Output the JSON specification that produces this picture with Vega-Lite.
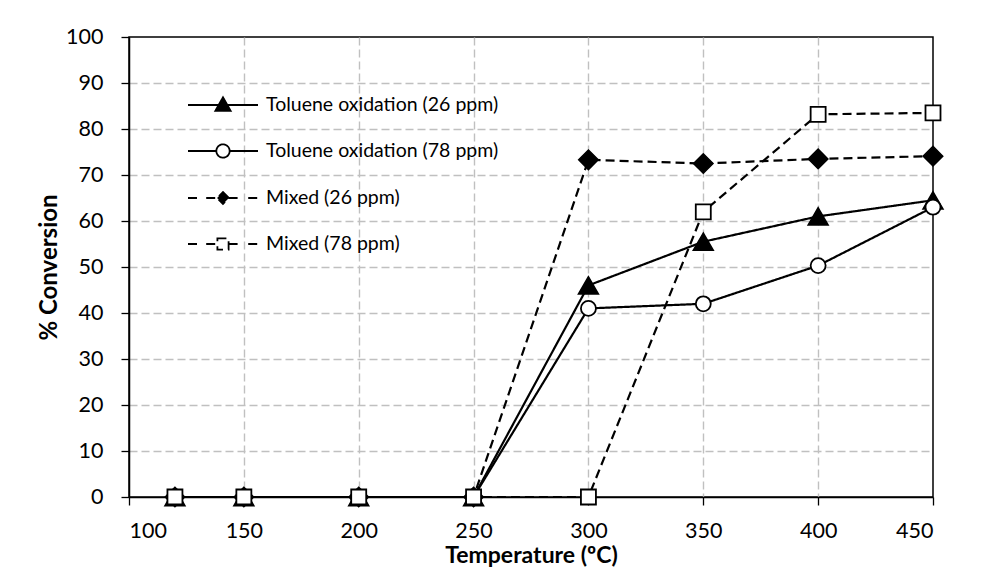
{
  "$schema": "https://vega.github.io/schema/vega-lite/v6.json",
  "width": 804,
  "height": 460,
  "autosize": {"type": "none"},
  "padding": {"left": 129, "top": 37, "right": 51, "bottom": 74},
  "background": "white",
  "config": {
    "font": "Lato",
    "view": {"stroke": "black", "strokeWidth": 1.5},
    "axis": {
      "labelFont": "Lato",
      "labelFontSize": 21.5,
      "labelColor": "black",
      "titleFont": "Lato",
      "titleFontWeight": "bold",
      "titleColor": "black",
      "domainColor": "black",
      "domainWidth": 1.5,
      "tickColor": "black",
      "tickWidth": 1.3,
      "tickSize": 8,
      "gridColor": "#c0c0c0",
      "gridWidth": 1.4,
      "gridDash": [8, 4]
    }
  },
  "data": {
    "values": [
      {"series": "Toluene oxidation (26 ppm)", "temp": 120, "conv": 0},
      {"series": "Toluene oxidation (26 ppm)", "temp": 150, "conv": 0},
      {"series": "Toluene oxidation (26 ppm)", "temp": 200, "conv": 0},
      {"series": "Toluene oxidation (26 ppm)", "temp": 250, "conv": 0},
      {"series": "Toluene oxidation (26 ppm)", "temp": 300, "conv": 46},
      {"series": "Toluene oxidation (26 ppm)", "temp": 350, "conv": 55.5},
      {"series": "Toluene oxidation (26 ppm)", "temp": 400, "conv": 61},
      {"series": "Toluene oxidation (26 ppm)", "temp": 450, "conv": 64.5},
      {"series": "Toluene oxidation (78 ppm)", "temp": 120, "conv": 0},
      {"series": "Toluene oxidation (78 ppm)", "temp": 150, "conv": 0},
      {"series": "Toluene oxidation (78 ppm)", "temp": 200, "conv": 0},
      {"series": "Toluene oxidation (78 ppm)", "temp": 250, "conv": 0},
      {"series": "Toluene oxidation (78 ppm)", "temp": 300, "conv": 41},
      {"series": "Toluene oxidation (78 ppm)", "temp": 350, "conv": 42},
      {"series": "Toluene oxidation (78 ppm)", "temp": 400, "conv": 50.3},
      {"series": "Toluene oxidation (78 ppm)", "temp": 450, "conv": 63},
      {"series": "Mixed (26 ppm)", "temp": 120, "conv": 0},
      {"series": "Mixed (26 ppm)", "temp": 150, "conv": 0},
      {"series": "Mixed (26 ppm)", "temp": 200, "conv": 0},
      {"series": "Mixed (26 ppm)", "temp": 250, "conv": 0},
      {"series": "Mixed (26 ppm)", "temp": 300, "conv": 73.3},
      {"series": "Mixed (26 ppm)", "temp": 350, "conv": 72.5},
      {"series": "Mixed (26 ppm)", "temp": 400, "conv": 73.5},
      {"series": "Mixed (26 ppm)", "temp": 450, "conv": 74.1},
      {"series": "Mixed (78 ppm)", "temp": 120, "conv": 0},
      {"series": "Mixed (78 ppm)", "temp": 150, "conv": 0},
      {"series": "Mixed (78 ppm)", "temp": 200, "conv": 0},
      {"series": "Mixed (78 ppm)", "temp": 250, "conv": 0},
      {"series": "Mixed (78 ppm)", "temp": 300, "conv": 0},
      {"series": "Mixed (78 ppm)", "temp": 350, "conv": 62},
      {"series": "Mixed (78 ppm)", "temp": 400, "conv": 83.2},
      {"series": "Mixed (78 ppm)", "temp": 450, "conv": 83.5}
    ]
  },
  "encoding": {
    "x": {
      "field": "temp",
      "type": "quantitative",
      "scale": {"domain": [100, 450], "nice": false, "zero": false},
      "axis": {
        "title": "Temperature (ºC)",
        "titleFontSize": 23,
        "values": [100, 150, 200, 250, 300, 350, 400, 450],
        "labelPadding": 15,
        "titlePadding": 3,
        "gridOpacity": {"condition": {"test": "datum.value == 100 || datum.value == 450", "value": 0}, "value": 1}
      }
    },
    "y": {
      "field": "conv",
      "type": "quantitative",
      "scale": {"domain": [0, 100], "nice": false},
      "axis": {
        "title": "% Conversion",
        "titleFontSize": 24,
        "values": [0, 10, 20, 30, 40, 50, 60, 70, 80, 90, 100],
        "labelPadding": 18,
        "titlePadding": 4,
        "gridOpacity": {"condition": {"test": "datum.value == 0 || datum.value == 100", "value": 0}, "value": 1}
      }
    }
  },
  "layer": [
    {
      "mark": {"type": "line", "color": "black", "strokeWidth": 2.2},
      "encoding": {
        "strokeDash": {
          "field": "series",
          "type": "nominal",
          "scale": {
            "domain": ["Toluene oxidation (26 ppm)", "Toluene oxidation (78 ppm)", "Mixed (26 ppm)", "Mixed (78 ppm)"],
            "range": [[1, 0], [1, 0], [9, 5], [9, 5]]
          },
          "legend": {
            "title": null,
            "orient": "none",
            "legendX": 58,
            "legendY": 32,
            "padding": 0,
            "labelFont": "Lato",
            "labelFontSize": 19.5,
            "labelColor": "black",
            "labelLimit": 0,
            "labelOffset": 7,
            "symbolSize": 4900,
            "rowPadding": 0,
            "encoding": {
              "symbols": {
                "shape": {
                  "condition": [
                    {"test": "datum.value == 'Toluene oxidation (26 ppm)'", "value": "M-1,0H1M0,-0.22L0.22,0.17L-0.22,0.17Z"},
                    {"test": "datum.value == 'Toluene oxidation (78 ppm)'", "value": "M-1,0H-0.19M0.19,0H1M0.19,0A0.19,0.19,0,1,1,-0.19,0A0.19,0.19,0,1,1,0.19,0Z"},
                    {"test": "datum.value == 'Mixed (26 ppm)'", "value": "M-1,0H-0.72M-0.48,0H-0.16M0.16,0H0.48M0.72,0H1M0,-0.17L0.17,0L0,0.17L-0.17,0Z"}
                  ],
                  "value": "M-1,0H-0.72M-0.48,0H-0.16M0.16,0H0.48M0.72,0H1M-0.16,-0.16H0.16V0.16H-0.16Z"
                },
                "fill": {
                  "condition": {"test": "datum.value == 'Toluene oxidation (26 ppm)' || datum.value == 'Mixed (26 ppm)'", "value": "black"},
                  "value": "white"
                },
                "stroke": {"value": "black"},
                "strokeWidth": {"value": 1.8},
                "strokeDash": {"value": [1, 0]},
                "opacity": {"value": 1}
              }
            }
          }
        }
      }
    },
    {
      "transform": [{"filter": "datum.series == 'Toluene oxidation (26 ppm)'"}],
      "mark": {"type": "point", "shape": "triangle-up", "size": 400, "fill": "black", "stroke": "black", "strokeWidth": 1.5, "opacity": 1}
    },
    {
      "transform": [{"filter": "datum.series == 'Toluene oxidation (78 ppm)'"}],
      "mark": {"type": "point", "shape": "circle", "size": 225, "fill": "white", "stroke": "black", "strokeWidth": 1.8, "opacity": 1}
    },
    {
      "transform": [{"filter": "datum.series == 'Mixed (26 ppm)'"}],
      "mark": {"type": "point", "shape": "diamond", "size": 380, "fill": "black", "stroke": "black", "strokeWidth": 1.5, "opacity": 1}
    },
    {
      "transform": [{"filter": "datum.series == 'Mixed (78 ppm)'"}],
      "mark": {"type": "point", "shape": "square", "size": 225, "fill": "white", "stroke": "black", "strokeWidth": 1.8, "opacity": 1}
    }
  ]
}
